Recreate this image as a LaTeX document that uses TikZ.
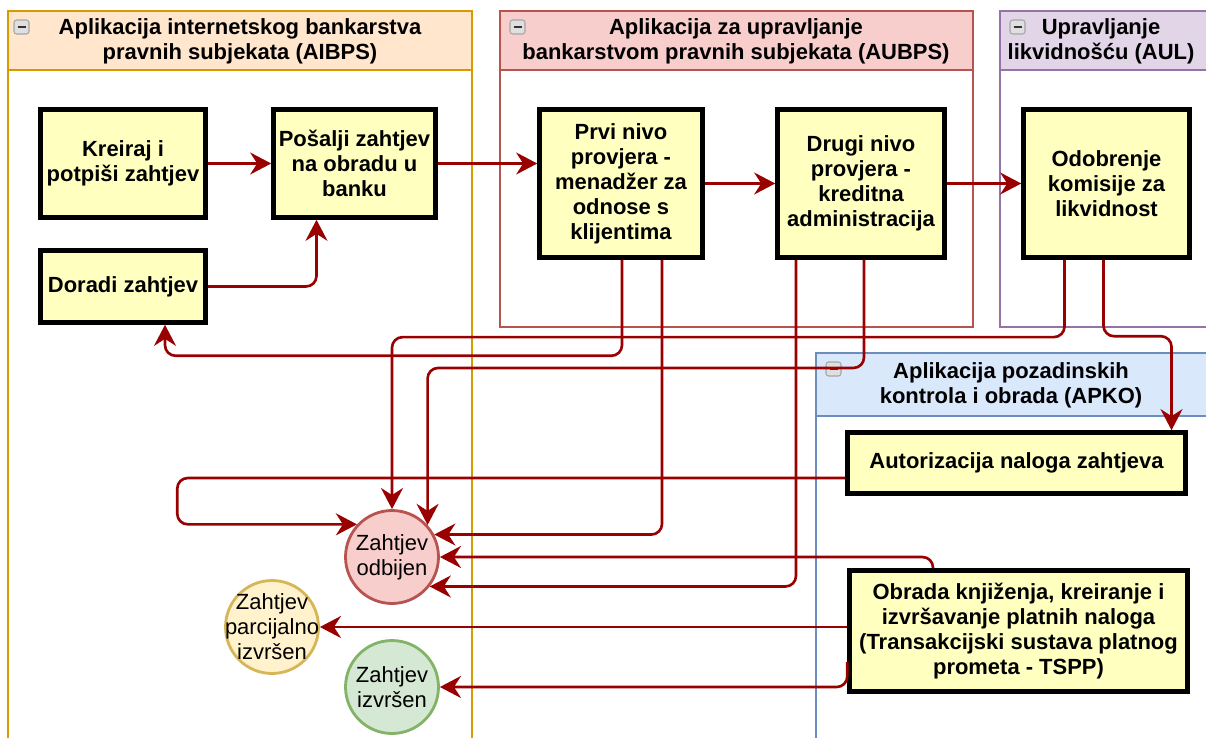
\documentclass[tikz,border=0pt]{standalone}
\usepackage{fontspec}
\setmainfont{Liberation Sans}
\usetikzlibrary{arrows.meta,calc}
\definecolor{flowred}{HTML}{990000}
\definecolor{procfill}{HTML}{FFFFC0}
\definecolor{aibpsfill}{HTML}{FFE6CC}
\definecolor{aibpsline}{HTML}{D79B00}
\definecolor{aubpsfill}{HTML}{F8CECC}
\definecolor{aubpsline}{HTML}{B85450}
\definecolor{aulfill}{HTML}{E1D5E7}
\definecolor{aulline}{HTML}{9673A6}
\definecolor{apkofill}{HTML}{DAE8FC}
\definecolor{apkoline}{HTML}{6C8EBF}
\definecolor{partfill}{HTML}{FFF2CC}
\definecolor{partline}{HTML}{D6B656}
\definecolor{donefill}{HTML}{D5E8D4}
\definecolor{doneline}{HTML}{82B366}
\begin{document}
\begin{tikzpicture}[
    x=0.02cm, y=-0.02cm,
    lane/.style={line width=0.8pt},
    hdr/.style={font=\fontsize{12.5}{14.2}\selectfont\bfseries, align=center, inner sep=0pt},
    proc/.style={draw=black, line width=2.6pt, fill=procfill, align=center, inner sep=2pt, font=\fontsize{12.5}{14.2}\selectfont\bfseries},
    endstate/.style={circle, line width=1.6pt, inner sep=0pt, minimum size=1.86cm},
    endtext/.style={align=center, inner sep=0pt, font=\fontsize{12.5}{14.2}\selectfont},
    flow/.style={draw=flowred, line width=1.5pt, rounded corners=6pt, -{Stealth[length=12pt,width=12.5pt,inset=4pt]}},
    iconbox/.style={draw=gray!70, fill=gray!25, rounded corners=1.5pt, line width=0.6pt},
    iconbar/.style={draw=gray!40!black, line width=1.2pt}
]
    \useasboundingbox (0,0) rectangle (1206,737);
    \clip (0,0) rectangle (1206,737);
    \fill[white] (0,0) rectangle (1206,737);

    \filldraw[lane, draw=aibpsline, fill=white] (8,11) rectangle (472,760);
    \filldraw[lane, draw=aibpsline, fill=aibpsfill] (8,11) rectangle (472,70);
    \filldraw[lane, draw=aubpsline, fill=white] (500,11) rectangle (973,327);
    \filldraw[lane, draw=aubpsline, fill=aubpsfill] (500,11) rectangle (973,70);
    \filldraw[lane, draw=aulline, fill=white] (1000,11) rectangle (1215,327);
    \filldraw[lane, draw=aulline, fill=aulfill] (1000,11) rectangle (1215,70);
    \filldraw[lane, draw=apkoline, fill=white] (816,353) rectangle (1215,760);
    \filldraw[lane, draw=apkoline, fill=apkofill] (816,353) rectangle (1215,416);

    \foreach \ix/\iy in {14/20, 510/20, 1010/20, 826/362} {
        \draw[iconbox] (\ix,\iy) rectangle ++(15,14);
        \draw[iconbar] (\ix+3.5,\iy+7) -- ++(8,0);
    }

    \node[hdr] (hdr-aibps) at (240,41) {Aplikacija internetskog bankarstva\\pravnih subjekata (AIBPS)};
    \node[hdr] (hdr-aubps) at (736,41) {Aplikacija za upravljanje\\bankarstvom pravnih subjekata (AUBPS)};
    \node[hdr] (hdr-aul) at (1101,41) {Upravljanje\\likvidnošću (AUL)};
    \node[hdr] (hdr-apko) at (1011,385) {Aplikacija pozadinskih\\kontrola i obrada (APKO)};

    \node[proc, minimum width=3.3cm, minimum height=2.16cm] (kreiraj) at (123,163.5) {Kreiraj i\\potpiši zahtjev};
    \node[proc, minimum width=3.24cm, minimum height=2.16cm] (posalji) at (354.5,163.5) {Pošalji zahtjev\\na obradu u\\banku};
    \node[proc, minimum width=3.3cm, minimum height=1.44cm] (doradi) at (123,286.5) {Doradi zahtjev};
    \node[proc, minimum width=3.26cm, minimum height=2.96cm] (prvi) at (621,183.5) {Prvi nivo\\provjera -\\menadžer za\\odnose s\\klijentima};
    \node[proc, minimum width=3.34cm, minimum height=2.96cm] (drugi) at (861,183.5) {Drugi nivo\\provjera -\\kreditna\\administracija};
    \node[proc, minimum width=3.32cm, minimum height=2.96cm] (odobrenje) at (1106.5,183.5) {Odobrenje\\komisije za\\likvidnost};
    \node[proc, minimum width=6.76cm, minimum height=1.22cm] (autor) at (1016.5,463) {Autorizacija naloga zahtjeva};
    \node[proc, minimum width=6.76cm, minimum height=2.42cm] (obrada) at (1018.5,631) {Obrada knjiženja, kreiranje i\\izvršavanje platnih naloga\\(Transakcijski sustava platnog\\prometa - TSPP)};

    \node[endstate, draw=aubpsline, fill=aubpsfill] (odbijen) at (392,557) {};
    \node[endtext] (odbijen-txt) at (odbijen) {Zahtjev\\odbijen};
    \node[endstate, draw=partline, fill=partfill] (parcijalno) at (272,627) {};
    \node[endtext] (parcijalno-txt) at (parcijalno) {Zahtjev\\parcijalno\\izvršen};
    \node[endstate, draw=doneline, fill=donefill] (izvrsen) at (392,687) {};
    \node[endtext] (izvrsen-txt) at (izvrsen) {Zahtjev\\izvršen};

    \draw[flow] (kreiraj) -- (posalji);
    \draw[flow] (doradi.east) -| ($(posalji.south)+(-38,0)$);
    \draw[flow] (posalji.east) -- (posalji.east -| prvi.west);
    \draw[flow] (prvi) -- (drugi);
    \draw[flow] (drugi) -- (odobrenje);
    \draw[flow] ($(prvi.south)+(1,0)$) |- ($(doradi.south)+(42,31)$) -- ($(doradi.south)+(42,0)$);
    \draw[flow] ($(odobrenje.south)+(-42,0)$) |- ($(odbijen.north)+(0,-172)$) -- (odbijen.north);
    \draw[flow] ($(odobrenje.south)+(-3,0)$) |- ($(autor.north)+(155,-94)$) -- ($(autor.north)+(155,0)$);
    \draw[flow] ($(drugi.south)+(3,0)$) |- ($(odbijen.42)+(0,-157)$) -- (odbijen.42);
    \draw[flow] ($(prvi.south)+(41,0)$) |- (odbijen.28);
    \draw[flow] ($(drugi.south)+(-65,0)$) |- (odbijen.-38);
    \draw[flow] ($(obrada.north)+(-85.5,0)$) |- (odbijen.east);
    \draw[flow] ($(autor.west)+(0,15)$) -- ++(-668,0) |- (odbijen.137);
    \draw[flow] (obrada.west |- parcijalno.east) -- (parcijalno.east);
    \draw[flow] ($(obrada.west)+(0,31)$) |- (izvrsen.east);
\end{tikzpicture}
\end{document}
